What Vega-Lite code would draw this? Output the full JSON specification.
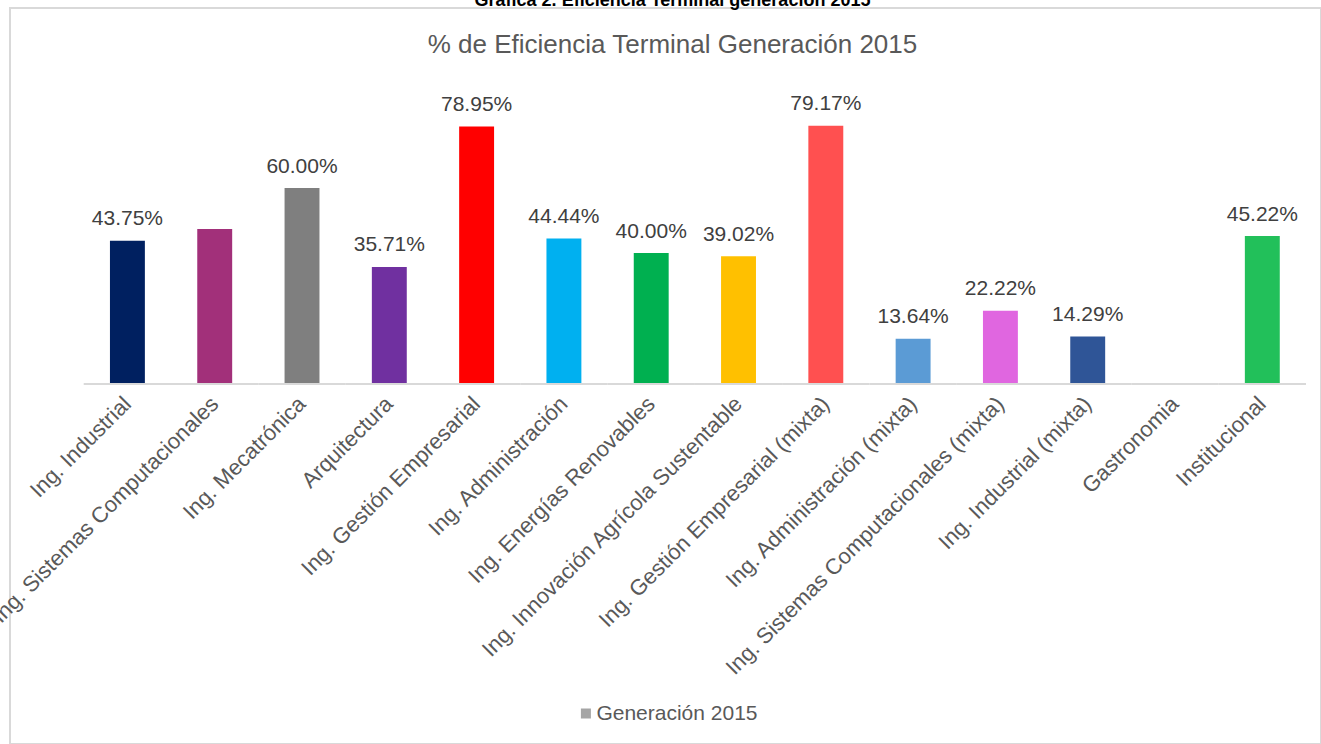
{
  "$schema": "https://vega.github.io/schema/vega-lite/v6.json",
  "width": 1311,
  "height": 736,
  "autosize": {"type": "none"},
  "padding": {"left": 10, "top": 8, "right": 0, "bottom": 0},
  "background": "white",
  "config": {
    "view": {"stroke": "#d9d9d9", "strokeWidth": 2},
    "font": "Liberation Sans"
  },
  "title": {
    "text": "Gráfica 2. Eficiencia Terminal generación 2015",
    "subtitle": "% de Eficiencia Terminal Generación 2015",
    "anchor": "middle",
    "frame": "group",
    "font": "Liberation Sans",
    "fontSize": 18,
    "fontWeight": "bold",
    "color": "#000000",
    "subtitleFont": "Liberation Sans",
    "subtitleFontSize": 26,
    "subtitleColor": "#595959",
    "subtitlePadding": 22,
    "offset": -50,
    "dx": 7
  },
  "data": {
    "values": [
      {"carrera": "Ing. Industrial", "valor": 43.75, "etiqueta": "43.75%", "serie": "Generación 2015"},
      {"carrera": "Ing. Sistemas Computacionales", "valor": 47.37, "etiqueta": "", "serie": "Generación 2015"},
      {"carrera": "Ing. Mecatrónica", "valor": 60.0, "etiqueta": "60.00%", "serie": "Generación 2015"},
      {"carrera": "Arquitectura", "valor": 35.71, "etiqueta": "35.71%", "serie": "Generación 2015"},
      {"carrera": "Ing. Gestión Empresarial", "valor": 78.95, "etiqueta": "78.95%", "serie": "Generación 2015"},
      {"carrera": "Ing. Administración", "valor": 44.44, "etiqueta": "44.44%", "serie": "Generación 2015"},
      {"carrera": "Ing. Energías Renovables", "valor": 40.0, "etiqueta": "40.00%", "serie": "Generación 2015"},
      {"carrera": "Ing. Innovación Agrícola Sustentable", "valor": 39.02, "etiqueta": "39.02%", "serie": "Generación 2015"},
      {"carrera": "Ing. Gestión Empresarial (mixta)", "valor": 79.17, "etiqueta": "79.17%", "serie": "Generación 2015"},
      {"carrera": "Ing. Administración (mixta)", "valor": 13.64, "etiqueta": "13.64%", "serie": "Generación 2015"},
      {"carrera": "Ing. Sistemas Computacionales (mixta)", "valor": 22.22, "etiqueta": "22.22%", "serie": "Generación 2015"},
      {"carrera": "Ing. Industrial (mixta)", "valor": 14.29, "etiqueta": "14.29%", "serie": "Generación 2015"},
      {"carrera": "Gastronomia", "valor": 0, "etiqueta": "", "serie": "Generación 2015"},
      {"carrera": "Institucional", "valor": 45.22, "etiqueta": "45.22%", "serie": "Generación 2015"}
    ]
  },
  "encoding": {
    "x": {
      "field": "carrera",
      "type": "nominal",
      "sort": ["Ing. Industrial", "Ing. Sistemas Computacionales", "Ing. Mecatrónica", "Arquitectura", "Ing. Gestión Empresarial", "Ing. Administración", "Ing. Energías Renovables", "Ing. Innovación Agrícola Sustentable", "Ing. Gestión Empresarial (mixta)", "Ing. Administración (mixta)", "Ing. Sistemas Computacionales (mixta)", "Ing. Industrial (mixta)", "Gastronomia", "Institucional"],
      "scale": {
        "paddingInner": 0.6,
        "paddingOuter": 0.8086,
        "align": 0.708
      },
      "axis": {
        "orient": "bottom",
        "offset": -361,
        "domain": false,
        "ticks": false,
        "grid": false,
        "title": null,
        "labelAngle": -45,
        "labelAlign": "right",
        "labelBaseline": "middle",
        "labelPadding": 17,
        "labelFont": "Liberation Sans",
        "labelFontSize": 22,
        "labelColor": "#595959",
        "labelLimit": 0,
        "labelOverlap": false,
        "labelBound": false
      }
    },
    "y": {
      "field": "valor",
      "type": "quantitative",
      "scale": {"domain": [-111.077, 115.385], "nice": false},
      "axis": null
    }
  },
  "layer": [
    {
      "mark": {"type": "tick", "color": "#d9d9d9", "thickness": 2, "size": 87.4, "yOffset": 1, "opacity": 1},
      "encoding": {
        "y": {"datum": 0}
      }
    },
    {
      "mark": {"type": "bar"},
      "encoding": {
        "color": {
          "field": "carrera",
          "type": "nominal",
          "scale": {
            "domain": ["Ing. Industrial", "Ing. Sistemas Computacionales", "Ing. Mecatrónica", "Arquitectura", "Ing. Gestión Empresarial", "Ing. Administración", "Ing. Energías Renovables", "Ing. Innovación Agrícola Sustentable", "Ing. Gestión Empresarial (mixta)", "Ing. Administración (mixta)", "Ing. Sistemas Computacionales (mixta)", "Ing. Industrial (mixta)", "Gastronomia", "Institucional"],
            "range": ["#002060", "#a2307a", "#7f7f7f", "#7030a0", "#ff0000", "#00b0f0", "#00b050", "#ffc000", "#ff5050", "#5b9bd5", "#e066e0", "#2f5597", "#ffffff", "#22c05a"]
          },
          "legend": null
        }
      }
    },
    {
      "mark": {"type": "text", "font": "Liberation Sans", "fontSize": 21, "baseline": "alphabetic", "dy": -15.5},
      "encoding": {
        "text": {"field": "etiqueta"},
        "fill": {
          "field": "serie",
          "type": "nominal",
          "scale": {"range": ["#404040"]},
          "legend": {
            "title": null,
            "orient": "none",
            "legendX": 565.4,
            "legendY": 695,
            "padding": 0,
            "symbolType": "square",
            "symbolSize": 100,
            "symbolStrokeWidth": 0,
            "symbolOpacity": 0.47,
            "labelOffset": 0,
            "labelLimit": 0,
            "labelFont": "Liberation Sans",
            "labelFontSize": 21,
            "labelColor": "#595959"
          }
        }
      }
    }
  ]
}
